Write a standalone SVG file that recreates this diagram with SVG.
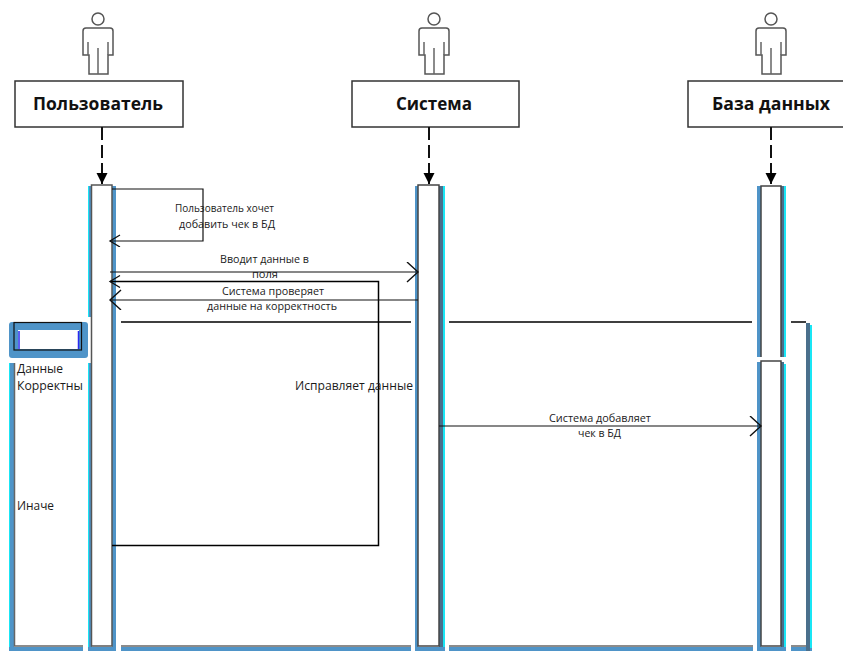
<svg xmlns="http://www.w3.org/2000/svg" width="843" height="651" viewBox="0 0 843 651">
<style>
text{font-family:"Open Sans","Noto Sans","Liberation Sans",sans-serif;fill:#1a1a1a}
.m{font-size:10px}
.l{font-size:12px}
.h{font-size:17px;font-weight:700;fill:#111}
.box{fill:#fff;stroke:#333;stroke-width:1.5}
.actor{fill:#fff;stroke:#555;stroke-width:1.5}
.b{fill:#4f94c8}
.c{fill:#19e6f5}
.d{fill:#4a6f8c}
.g{stroke:#666;stroke-width:1.5;fill:none}
.line{stroke:#000;stroke-width:1.5;fill:none}
.thin{stroke:#111;stroke-width:1.2;fill:none}
.dash{stroke:#111;stroke-width:2;stroke-dasharray:13 5;fill:none}
</style>
<defs>
<marker id="open" markerWidth="14" markerHeight="14" refX="11" refY="6" orient="auto-start-reverse" markerUnits="userSpaceOnUse"><path d="M1 0L11 6L1 12" fill="none" stroke="#111" stroke-width="1.3"/></marker>
<marker id="big" markerWidth="14" markerHeight="24" refX="12" refY="10" orient="auto-start-reverse" markerUnits="userSpaceOnUse"><path d="M1 0L12 10L1 20" fill="none" stroke="#111" stroke-width="1.4"/></marker>
<marker id="solid" markerWidth="12" markerHeight="12" refX="11" refY="5.5" orient="auto" markerUnits="userSpaceOnUse"><path d="M0 0L11 5.500L0 11Z" fill="#000"/></marker>
<g id="figure"><circle cx="0" cy="19" r="6" class="actor"/><path class="actor" d="M-12 28H12Q15 28 15 31V55H10V74H-9V55H-15V31Q-15 28-12 28Z"/><path class="g" d="M-10 42V55M10 42V55M0 48V74"/></g>
</defs>

<g id="frame">
<rect class="c" x="9" y="363" width="1" height="288"/>
<rect class="b" x="10" y="363" width="4" height="288"/>
<rect class="b" x="9" y="647" width="74" height="4"/>
<rect class="b" x="121" y="647" width="290" height="4"/>
<rect class="b" x="449" y="647" width="304" height="4"/>
<rect class="b" x="791" y="647" width="21" height="4"/>
<rect class="d" x="806" y="323" width="4" height="328"/>
<rect class="c" x="810" y="325" width="2" height="323"/>
<path class="g" d="M14.500 363V646H83M121 646H411M449 646H753M791 646H806"/>
<path class="line" d="M121 322H411M449 322H752M791 322H806"/>
</g>

<g id="frame-tag">
<rect class="b" x="9" y="322" width="79" height="36" rx="3"/>
<rect x="18" y="330" width="61" height="19" fill="#fff"/>
<path d="M19 331V349M78.500 331V349" stroke="#2a2af0" stroke-width="1.500"/>
<rect x="14" y="322.500" width="67.500" height="27.500" fill="none" stroke="#111" stroke-width="1.200"/>
<text class="l" x="17" y="373">Данные</text>
<text class="l" x="17" y="390" textLength="66" lengthAdjust="spacingAndGlyphs">Корректны</text>
<text class="l" x="17" y="510" textLength="37" lengthAdjust="spacingAndGlyphs">Иначе</text>
</g>

<g id="user">
<use href="#figure" x="98"/>
<rect class="box" x="15" y="81" width="168" height="46"/>
<text class="h" x="33" y="110" textLength="130" lengthAdjust="spacingAndGlyphs">Пользователь</text>
</g>
<g id="system">
<use href="#figure" x="434"/>
<rect class="box" x="352" y="81" width="167" height="46"/>
<text class="h" x="396" y="110" textLength="76" lengthAdjust="spacingAndGlyphs">Система</text>
</g>
<g id="database">
<use href="#figure" x="771"/>
<rect class="box" x="688" y="81" width="170" height="46"/>
<text class="h" x="712" y="110" textLength="118" lengthAdjust="spacingAndGlyphs">База данных</text>
</g>

<g id="lifeline-user">
<rect class="c" x="88" y="186" width="1" height="131"/><rect class="b" x="89" y="186" width="3" height="131"/>
<rect class="c" x="88" y="363" width="1" height="288"/><rect class="b" x="89" y="363" width="3" height="288"/>
<rect class="b" x="112" y="186" width="4" height="465"/>
<rect class="b" x="88" y="647" width="28" height="4"/>
<rect x="91.500" y="185" width="20.500" height="461" fill="#fff" stroke="#555" stroke-width="1.500"/>
</g>
<g id="lifeline-system">
<rect class="b" x="415" y="186" width="3" height="465"/>
<rect class="d" x="439" y="186" width="4" height="465"/>
<rect class="c" x="443" y="186" width="2" height="462"/>
<rect class="b" x="415" y="647" width="30" height="4"/>
<rect x="418" y="185" width="21" height="461" fill="#fff" stroke="#444" stroke-width="1.500"/>
</g>
<g id="lifeline-database">
<rect class="b" x="757" y="186" width="4" height="171"/>
<rect class="d" x="781" y="186" width="3" height="171"/>
<rect class="c" x="784" y="186" width="2" height="171"/>
<rect class="b" x="757" y="362" width="4" height="289"/>
<rect class="d" x="781" y="362" width="3" height="289"/>
<rect class="c" x="784" y="364" width="2" height="284"/>
<rect class="b" x="757" y="647" width="29" height="4"/>
<path d="M761 357V186H781V357" fill="#fff" stroke="#444" stroke-width="1.500"/>
<rect x="761" y="361" width="20" height="285" fill="#fff" stroke="#444" stroke-width="1.500"/>
</g>

<g id="connectors">
<path class="dash" d="M102 127V184" marker-end="url(#solid)"/>
<path class="dash" d="M429 127V184" marker-end="url(#solid)"/>
<path class="dash" d="M771 127V184" marker-end="url(#solid)"/>
<path class="thin" d="M112 189H203V241H110" marker-end="url(#open)"/>
<path class="thin" d="M110 272H418" marker-end="url(#big)"/>
<path class="line" d="M112 545.500H378.500V281.500H110" marker-end="url(#open)"/>
<path class="thin" d="M418 300H110" marker-end="url(#big)"/>
<path class="thin" d="M439 426H761" marker-end="url(#big)"/>
</g>

<g id="labels">
<text class="m" x="175" y="212" textLength="99" lengthAdjust="spacingAndGlyphs">Пользователь хочет</text>
<text class="m" x="179" y="228" textLength="96" lengthAdjust="spacingAndGlyphs">добавить чек в БД</text>
<text class="m" x="220" y="263" textLength="89" lengthAdjust="spacingAndGlyphs">Вводит данные в</text>
<text class="m" x="252" y="278" textLength="26" lengthAdjust="spacingAndGlyphs">поля</text>
<text class="m" x="222" y="295" textLength="102" lengthAdjust="spacingAndGlyphs">Система проверяет</text>
<text class="m" x="207" y="310" textLength="130" lengthAdjust="spacingAndGlyphs">данные на корректность</text>
<text class="l" x="295" y="390" textLength="118" lengthAdjust="spacingAndGlyphs">Исправляет данные</text>
<text class="m" x="549" y="422" textLength="102" lengthAdjust="spacingAndGlyphs">Система добавляет</text>
<text class="m" x="578" y="437" textLength="43" lengthAdjust="spacingAndGlyphs">чек в БД</text>
</g>
</svg>
